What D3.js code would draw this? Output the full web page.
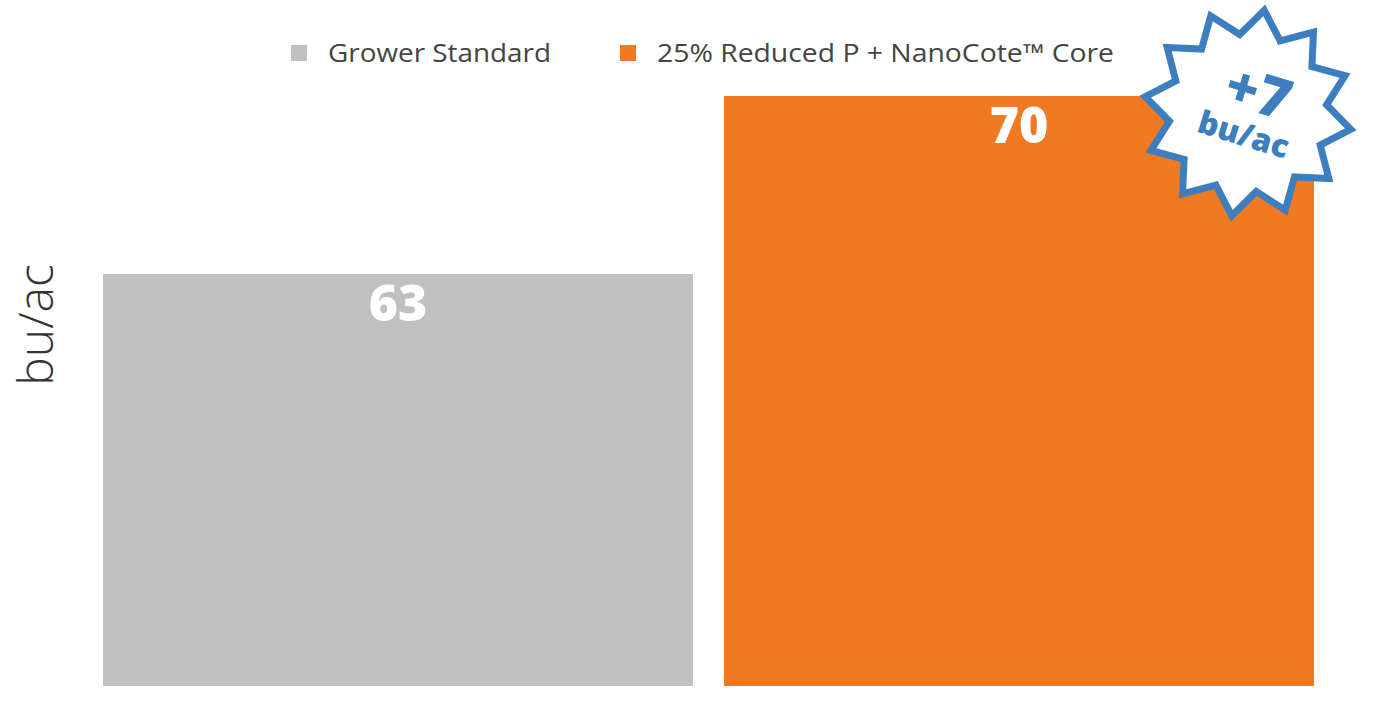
<!DOCTYPE html>
<html>
<head>
<meta charset="utf-8">
<script src="https://cdn.jsdelivr.net/npm/d3@7"></script>
<style>
  body { margin: 0; background: #fff; }
  svg { display: block; }
</style>
</head>
<body>
<div id="chart"></div>
<script>
// chart data
const categories = ["Grower Standard", "25% Reduced P + NanoCote\u2122 Core"];
const values = [63, 70];
const colors = ["#c0c0c0", "#f07a24"];
const yLabel = "bu/ac";
const yMin = 46.8;   // bars don't start at zero in the original

const width = 1395, height = 713;
const margin = {top: 96, right: 81, bottom: 27, left: 103};

const svg = d3.select("#chart").append("svg")
    .attr("width", width)
    .attr("height", height);

// scales
const x = d3.scaleBand()
    .domain(categories)
    .range([margin.left, width - margin.right])
    .paddingInner(0.05)
    .paddingOuter(0);

const y = d3.scaleLinear()
    .domain([yMin, d3.max(values)])
    .range([height - margin.bottom, margin.top]);

const data = categories.map((c, i) => ({name: c, value: values[i], color: colors[i]}));

// bars
svg.selectAll("rect.bar")
    .data(data)
    .enter()
    .append("rect")
    .attr("class", "bar")
    .attr("x", d => x(d.name))
    .attr("y", d => y(d.value))
    .attr("width", x.bandwidth())
    .attr("height", d => y(yMin) - y(d.value))
    .attr("fill", d => d.color);

// value labels
svg.selectAll("text.val")
    .data(data)
    .enter()
    .append("text")
    .attr("class", "val")
    .attr("x", d => x(d.name) + x.bandwidth() / 2)
    .attr("y", d => y(d.value) + 47)
    .attr("text-anchor", "middle")
    .attr("fill", "#fff")
    .style("font-family", "'Open Sans', sans-serif")
    .style("font-weight", 800)
    .style("font-size", "50px")
    .text(d => d.value);

// y axis title
svg.append("text")
    .attr("transform", "translate(53,325) rotate(-90)")
    .attr("text-anchor", "middle")
    .attr("fill", "#333")
    .style("font-family", "'Open Sans', sans-serif")
    .style("font-weight", 300)
    .style("font-size", "48px")
    .text(yLabel);

// legend
const legendX = [291, 620];
const legendW = [223, 457];   // text widths to match the wider original face
const legend = svg.selectAll("g.legend")
    .data(data)
    .enter()
    .append("g")
    .attr("class", "legend")
    .attr("transform", (d, i) => "translate(" + legendX[i] + ",45)");

legend.append("rect")
    .attr("width", 16)
    .attr("height", 16)
    .attr("fill", d => d.color);

legend.append("text")
    .attr("x", 37)
    .attr("y", 17)
    .attr("fill", "#444")
    .attr("textLength", (d, i) => legendW[i])
    .attr("lengthAdjust", "spacingAndGlyphs")
    .style("font-family", "'Open Sans', sans-serif")
    .style("font-size", "25px")
    .text(d => d.name);

// starburst callout with the difference
const last = data[data.length - 1];
const cx = x(last.name) + x.bandwidth() - 66, cy = y(last.value) + 17;
const nPts = 12, rOut = 104, rIn = 79;
const starPts = d3.range(nPts * 2).map(i => {
    let a = (i / (nPts * 2)) * 2 * Math.PI + 9 * Math.PI / 180;
    return [a, i % 2 === 0 ? rOut : rIn];
});
const star = svg.append("g")
    .attr("transform", "translate(" + cx + "," + cy + ")");

star.append("path")
    .attr("d", d3.lineRadial().curve(d3.curveLinearClosed)(starPts))
    .attr("fill", "#fff")
    .attr("stroke", "#3d7fbe")
    .attr("stroke-width", 7)
    .attr("stroke-linejoin", "miter");

const diff = values[1] - values[0];
const starText = star.append("g").attr("transform", "rotate(17)");
starText.append("text")
    .attr("x", 4)
    .attr("y", -3)
    .attr("text-anchor", "middle")
    .attr("fill", "#3d7fbe")
    .style("font-family", "'Open Sans', sans-serif")
    .style("font-weight", 800)
    .style("font-size", "56px")
    .text("+" + diff);
starText.append("text")
    .attr("x", 2)
    .attr("y", 33)
    .attr("text-anchor", "middle")
    .attr("fill", "#3d7fbe")
    .style("font-family", "'Open Sans', sans-serif")
    .style("font-weight", 800)
    .style("font-size", "32px")
    .text(yLabel);
</script>
</body>
</html>
